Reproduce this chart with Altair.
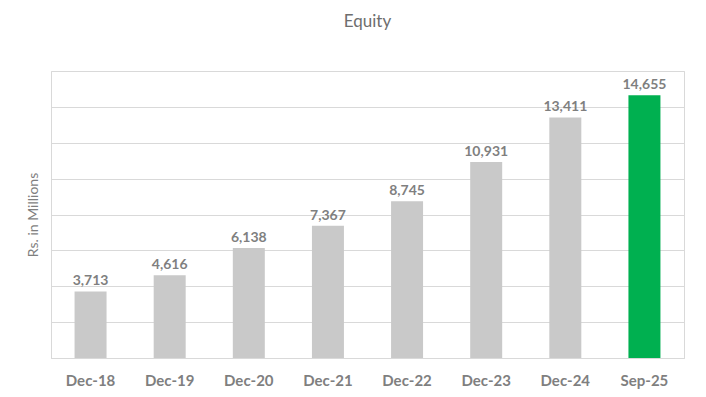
import altair as alt
import pandas as pd

periods = ["Dec-18", "Dec-19", "Dec-20", "Dec-21", "Dec-22", "Dec-23", "Dec-24", "Sep-25"]
equity = [3713, 4616, 6138, 7367, 8745, 10931, 13411, 14655]
bar_colors = ["#c9c9c9"] * 7 + ["#00b050"]
grid_values = [0, 2000, 4000, 6000, 8000, 10000, 12000, 14000, 16000]

df = pd.DataFrame({"period": periods, "equity": equity, "color": bar_colors})
df["label"] = df["equity"].map(lambda v: f"{v:,}")

FONT = "Lato, Open Sans, sans-serif"

base = alt.Chart(df).encode(
    x=alt.X("period:N", sort=periods,
            scale=alt.Scale(paddingInner=0.6, paddingOuter=0.3),
            axis=alt.Axis(title=None, labelAngle=0, labelFont=FONT, labelFontSize=15,
                          labelFontWeight="bold", labelColor="#7f7f7f", ticks=False,
                          domain=True, domainColor="#d9d9d9", labelPadding=15)),
    y=alt.Y("equity:Q", scale=alt.Scale(domain=[0, 16000], nice=False),
            axis=alt.Axis(title="Rs. in Millions", titleFont=FONT, titleFontSize=14,
                          titleFontWeight="normal", titleColor="#7f7f7f", labels=False,
                          ticks=False, domain=False, grid=True, gridColor="#d9d9d9",
                          values=grid_values, titlePadding=11)),
)

bars = base.mark_bar(size=32).encode(color=alt.Color("color:N", scale=None))
labels = base.mark_text(baseline="bottom", dy=-3, font=FONT, fontSize=14,
                        fontWeight="bold", color="#7f7f7f").encode(text="label:N")

chart = (bars + labels).properties(
    width=633, height=287,
    title=alt.TitleParams("Equity", font=FONT, fontSize=17, fontWeight="normal",
                          color="#6e6e6e", offset=40, anchor="middle"),
    autosize=alt.AutoSizeParams(type="none"),
    padding={"left": 43, "top": 63, "right": 14, "bottom": 31},
).configure_view(stroke="#d9d9d9", strokeWidth=1)

chart.save("out.html", embed_options={"renderer": "svg", "actions": False})
